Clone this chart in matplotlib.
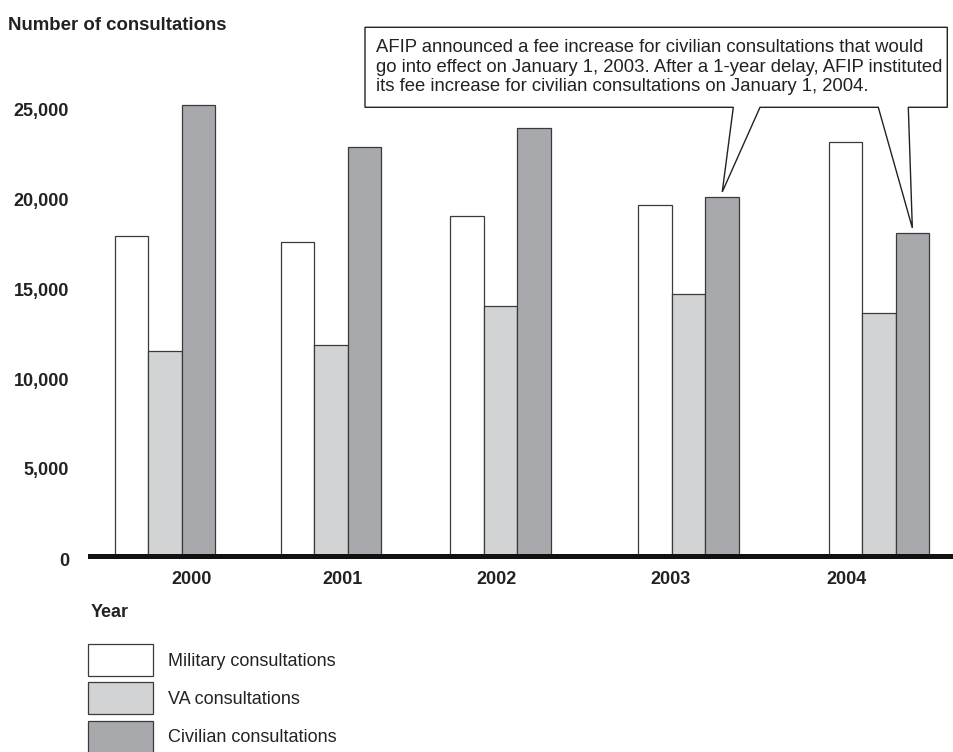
import numpy as np
import matplotlib.pyplot as plt
from matplotlib.patches import Polygon, Rectangle
from matplotlib.transforms import IdentityTransform, ScaledTranslation

years = ['2000', '2001', '2002', '2003', '2004']
military = [17800, 17450, 18900, 19500, 23000]
va = [11400, 11700, 13900, 14550, 13500]
civilian = [25050, 22700, 23800, 19950, 17950]
series_labels = ['Military consultations', 'VA consultations', 'Civilian consultations']
yticks = [0, 5000, 10000, 15000, 20000, 25000]
ytick_labels = ['0', '5,000', '10,000', '15,000', '20,000', '25,000']
callout_text = ('AFIP announced a fee increase for civilian consultations that would\n'
                'go into effect on January 1, 2003. After a 1-year delay, AFIP instituted\n'
                'its fee increase for civilian consultations on January 1, 2004.')

# layout (the groups are not evenly spaced in the original)
group_pos = np.array([0, 1, 2.02, 3.155, 4.30])
year_label_pos = [0.163, 1.072, 2.0, 3.048, 4.108]
w = 0.202
colors = ['#ffffff', '#d1d3d4', '#a7a9ac']
edge = '#3a3a3a'
txt = '#222222'

W, H = 954, 752
plt.rcParams['font.family'] = ['Liberation Sans', 'DejaVu Sans']
plt.rcParams['font.size'] = 13

fig = plt.figure(figsize=(W / 100, H / 100), dpi=100)
ax = fig.add_axes([90 / W, (H - 556) / H, 1 - 90 / W, (556 - 69) / H])

for i, vals in enumerate([military, va, civilian]):
    ax.bar(group_pos + (i - 1) * w, vals, width=w, color=colors[i],
           edgecolor=edge, linewidth=0.9, label=series_labels[i])

ax.set_xlim(-75 / 166, (864 - 75) / 166)
ax.set_ylim(0, 487 / 0.018)

for s in ['top', 'right', 'left']:
    ax.spines[s].set_visible(False)
ax.spines['bottom'].set_linewidth(3.6)
ax.spines['bottom'].set_color('#111111')

ax.set_yticks(yticks)
ax.set_yticklabels(ytick_labels, fontweight='bold', color=txt)
ax.set_xticks(year_label_pos)
ax.set_xticklabels(years, fontweight='bold', color=txt)
ax.tick_params(axis='y', length=0, pad=15)
ax.tick_params(axis='x', length=0, pad=10.5)
off = ScaledTranslation(0, -3 / 100, fig.dpi_scale_trans)
for lab in ax.get_yticklabels():
    lab.set_transform(lab.get_transform() + off)

fig.text(8 / W, 1 - 25.5 / H, 'Number of consultations', fontweight='bold',
         fontsize=13.4, ha='left', va='center', color=txt)
fig.text(90.7 / W, 1 - 612.5 / H, 'Year', fontweight='bold',
         ha='left', va='center', color=txt)

# legend drawn as boxes + labels below the axis
for i, lab in enumerate(series_labels):
    top = 644 + i * 38.3
    fig.add_artist(Rectangle((88.3, H - top - 32), 64.4, 32,
                             facecolor=colors[i], edgecolor=edge,
                             linewidth=0.9, transform=IdentityTransform()))
    fig.text(168.3 / W, 1 - (top + 17) / H, lab, ha='left', va='center',
             color=txt)

# callout box with two pointers to the 2003 and 2004 civilian bars
tip1 = ax.transData.transform((group_pos[3] + w, civilian[3]))
tip2 = ax.transData.transform((group_pos[4] + w, civilian[4]))
tip1 = (tip1[0], tip1[1] + 5)
tip2 = (tip2[0], tip2[1] + 5)

def px(x, y):
    return (x, H - y)

verts = [px(365, 27.3), px(947.3, 27.3), px(947.3, 107.3), px(908.3, 107.3),
         tip2, px(878.3, 107.3), px(760, 107.3), tip1, px(733.3, 107.3),
         px(365, 107.3)]
callout = Polygon(verts, closed=True, facecolor='white', edgecolor='#222222',
                  linewidth=1.0, transform=IdentityTransform())
fig.add_artist(callout)
fig.text(376 / W, 1 - 67 / H, callout_text, ha='left', va='center',
         fontsize=13.3, linespacing=1.2, color=txt)

fig.savefig('out.png', dpi=100)
